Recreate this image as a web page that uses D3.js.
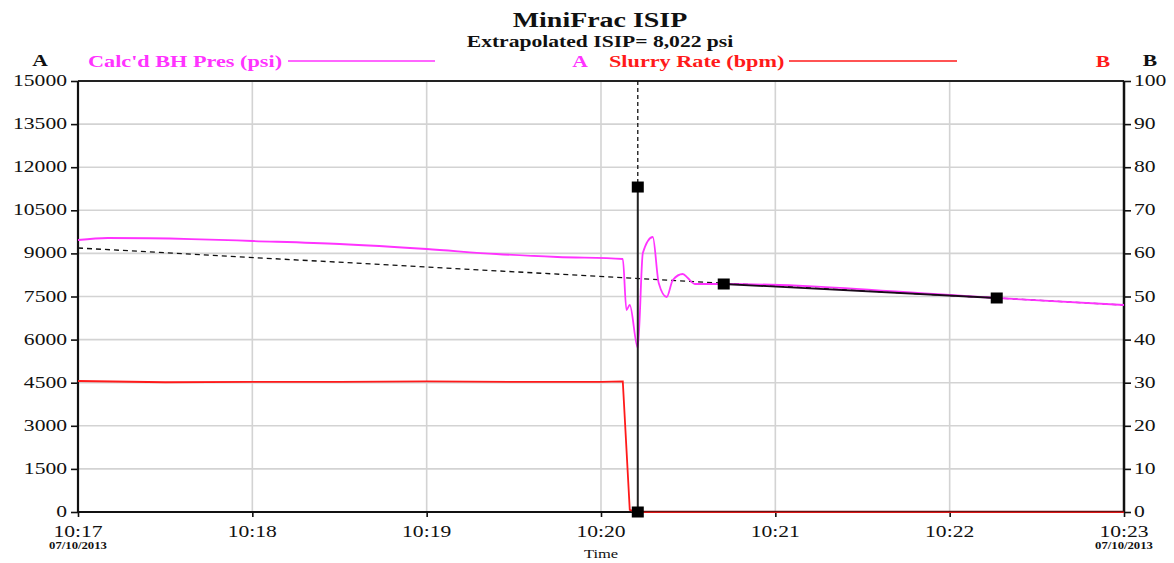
<!DOCTYPE html>
<html>
<head>
<meta charset="utf-8">
<script src="https://cdn.jsdelivr.net/npm/d3@7"></script>
<style>
  body { margin: 0; background: #fff; }
  svg { display: block; font-family: "Liberation Serif", "Times New Roman", serif; }
</style>
</head>
<body>
<svg id="chart" width="1174" height="563"></svg>
<script>
// minutes after 10:17 on 07/10/2013
const presT = [0, 0.17, 0.65, 1.0, 1.5, 2.0, 2.4, 2.75, 3.125, 3.146, 3.165, 3.211, 3.24, 3.297, 3.331, 3.377, 3.412, 3.469, 3.498, 3.538, 3.704, 5.27, 6.0];
const presV = [9466, 9536, 9500, 9432, 9327, 9153, 8979, 8875, 8805, 7030, 7204, 5708, 9014, 9571, 7970, 7483, 8074, 8283, 8144, 7935, 7935, 7448, 7204];

const rateT = [0, 0.5, 1.0, 1.5, 2.0, 2.5, 3.0, 3.125, 3.165, 3.2, 6.0];
const rateV = [30.4, 30.1, 30.2, 30.2, 30.3, 30.2, 30.2, 30.3, 0.5, 0, 0];

const isipT = [0, 6];
const isipV = [9188, 7204];

const shutInT = 3.211;
const markT = [3.211, 3.211, 3.704, 5.27];
const markV = [11310, 0, 7935, 7448];

const leftTicks = [0, 1500, 3000, 4500, 6000, 7500, 9000, 10500, 12000, 13500, 15000];
const rightTicks = [0, 10, 20, 30, 40, 50, 60, 70, 80, 90, 100];
const timeTicks = [0, 1, 2, 3, 4, 5, 6];
const timeLabels = ["10:17", "10:18", "10:19", "10:20", "10:21", "10:22", "10:23"];

const SX = 1.27; // horizontal stretch of the original picture's text
const x0 = 78, x1 = 1124, yTop = 81, yBot = 512;

const svg = d3.select("#chart");
const x = d3.scaleLinear().domain([0, 6]).range([x0, x1]);
const yA = d3.scaleLinear().domain([0, 15000]).range([yBot, yTop]);
const yB = d3.scaleLinear().domain([0, 100]).range([yBot, yTop]);

function label(tx, ty, str, opts) {
  opts = opts || {};
  return svg.append("text")
    .attr("transform", `translate(${tx},${ty}) scale(${SX},1)`)
    .attr("text-anchor", opts.anchor || "middle")
    .attr("font-size", opts.size || 17)
    .attr("font-weight", opts.weight || "bold")
    .attr("fill", opts.color || "#111")
    .text(str);
}

// grid
svg.append("g").selectAll("line").data(timeTicks.slice(1, -1)).join("line")
  .attr("x1", d => x(d)).attr("x2", d => x(d)).attr("y1", yTop).attr("y2", yBot)
  .attr("stroke", "#d3d3d3").attr("stroke-width", 1.6);
svg.append("g").selectAll("line").data(leftTicks.slice(1, -1)).join("line")
  .attr("x1", x0).attr("x2", x1).attr("y1", d => yA(d)).attr("y2", d => yA(d))
  .attr("stroke", "#d3d3d3").attr("stroke-width", 1.6);

// axes
const gL = svg.append("g").attr("transform", `translate(${x0},0)`);
gL.call(d3.axisLeft(yA).tickValues(d3.range(750, 15000, 1500)).tickSize(4).tickFormat(""));
gL.call(d3.axisLeft(yA).tickValues(leftTicks).tickSize(7).tickFormat(""));
const gR = svg.append("g").attr("transform", `translate(${x1},0)`);
gR.call(d3.axisRight(yB).tickValues(d3.range(5, 100, 10)).tickSize(4).tickFormat(""));
gR.call(d3.axisRight(yB).tickValues(rightTicks).tickSize(7).tickFormat(""));
const gB = svg.append("g").attr("transform", `translate(0,${yBot})`);
gB.call(d3.axisBottom(x).tickValues(d3.range(0.5, 6, 1)).tickSize(3).tickFormat(""));
gB.call(d3.axisBottom(x).tickValues(timeTicks).tickSize(5).tickFormat(""));
svg.selectAll(".domain").remove();
svg.selectAll(".tick line").attr("stroke", "#111").attr("stroke-width", 1.6);

// frame
svg.append("line").attr("x1", x0).attr("x2", x1).attr("y1", yTop).attr("y2", yTop).attr("stroke", "#222").attr("stroke-width", 2);
svg.append("line").attr("x1", x0).attr("x2", x0).attr("y1", yTop).attr("y2", yBot).attr("stroke", "#111").attr("stroke-width", 2.2);
svg.append("line").attr("x1", x1).attr("x2", x1).attr("y1", yTop).attr("y2", yBot).attr("stroke", "#111").attr("stroke-width", 2.5);
svg.append("line").attr("x1", x0).attr("x2", x1).attr("y1", yBot).attr("y2", yBot).attr("stroke", "#111").attr("stroke-width", 2);

// tick labels
leftTicks.forEach(v => label(x0 - 11, yA(v) + 5, v, { anchor: "end", weight: "normal" }));
rightTicks.forEach(v => label(x1 + 10, yB(v) + 5, v, { anchor: "start", weight: "normal" }));
timeTicks.forEach((t, i) => label(x(t), 537, timeLabels[i], { weight: "normal" }));
label(x(0), 549, "07/10/2013", { size: 10 });
label(x(6), 549, "07/10/2013", { size: 10 });
label(x(3), 558, "Time", { size: 13, weight: "normal" });

// extrapolation line
svg.append("path")
  .attr("d", d3.line().x((d, i) => x(isipT[i])).y(d => yA(d))(isipV))
  .attr("fill", "none").attr("stroke", "#111").attr("stroke-width", 1.3).attr("stroke-dasharray", "5,4");

// slurry rate
svg.append("path")
  .attr("d", d3.line().x((d, i) => x(rateT[i])).y(d => yB(d))(rateV))
  .attr("fill", "none").attr("stroke", "#ff1a1a").attr("stroke-width", 1.8);
svg.append("line").attr("x1", x(3.2)).attr("x2", x1).attr("y1", yBot - 0.5).attr("y2", yBot - 0.5)
  .attr("stroke", "#6b1010").attr("stroke-width", 1.5);

// pressure
svg.append("path")
  .attr("d", d3.line().curve(d3.curveMonotoneX).x((d, i) => x(presT[i])).y(d => yA(d))(presV))
  .attr("fill", "none").attr("stroke", "#ff33ff").attr("stroke-width", 1.8);

// shut-in vertical line
svg.append("line").attr("x1", x(shutInT)).attr("x2", x(shutInT)).attr("y1", yTop).attr("y2", yA(markV[0]))
  .attr("stroke", "#111").attr("stroke-width", 1.3).attr("stroke-dasharray", "4,3");
svg.append("line").attr("x1", x(shutInT)).attr("x2", x(shutInT)).attr("y1", yA(markV[0])).attr("y2", yBot)
  .attr("stroke", "#222").attr("stroke-width", 2);

// fit line between markers
svg.append("line").attr("x1", x(markT[2])).attr("x2", x(markT[3])).attr("y1", yA(markV[2])).attr("y2", yA(markV[3]))
  .attr("stroke", "#1a0a1a").attr("stroke-width", 1.8);

// markers
svg.append("g").selectAll("rect").data(markV).join("rect")
  .attr("x", (d, i) => x(markT[i]) - 6).attr("y", d => yA(d) - 5.5)
  .attr("width", 12).attr("height", 11).attr("fill", "#000");

// titles
label(600, 27, "MiniFrac ISIP", { size: 22 });
label(600, 47, "Extrapolated ISIP= 8,022 psi", { size: 17 });

// legend
label(40, 66, "A", { size: 17 });
label(1150, 66, "B", { size: 17 });
label(88, 67, "Calc'd BH Pres (psi)", { anchor: "start", size: 17.5, color: "#ff33ff" });
svg.append("line").attr("x1", 288).attr("x2", 435).attr("y1", 61).attr("y2", 61).attr("stroke", "#ff33ff").attr("stroke-width", 1.6);
label(580, 67, "A", { size: 17, color: "#ff33ff" });
label(609, 67, "Slurry Rate (bpm)", { anchor: "start", size: 17.5, color: "#ff1a1a" });
svg.append("line").attr("x1", 789).attr("x2", 957).attr("y1", 61).attr("y2", 61).attr("stroke", "#ff1a1a").attr("stroke-width", 1.6);
label(1103, 67, "B", { size: 17, color: "#ff1a1a" });
</script>
</body>
</html>
